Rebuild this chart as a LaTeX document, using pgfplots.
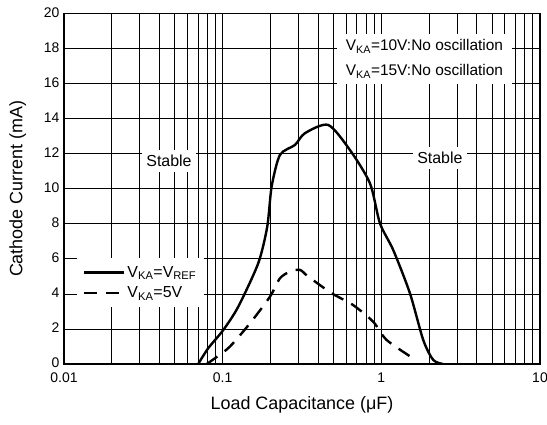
\documentclass[border=0pt]{standalone}
\usepackage{fontspec}
\setmainfont{Liberation Sans}
\usepackage{pgfplots}
\pgfplotsset{compat=1.18}

\begin{document}
\begin{tikzpicture}
\begin{axis}[
    xmode=log,
    scale only axis,
    width=476bp, height=350.5bp,
    xmin=0.01, xmax=10,
    ymin=0, ymax=20,
    xtick={0.01,0.1,1,10},
    xticklabels={0.01,0.1,1,10},
    minor xtick={0.02,0.03,0.04,0.05,0.06,0.07,0.08,0.09,
                 0.2,0.3,0.4,0.5,0.6,0.7,0.8,0.9,
                 2,3,4,5,6,7,8,9},
    ytick={0,2,...,20},
    major tick length=0pt, minor tick length=0pt,
    grid=both,
    major grid style={black, line width=0.8bp},
    minor grid style={black, line width=0.8bp},
    axis line style={black, line width=1.6bp},
    /pgf/number format/assume math mode=true,
    tick label style={font=\fontsize{14}{16}\selectfont},
    xticklabel style={yshift=-5.5bp},
    yticklabel style={xshift=-1bp, yshift=1bp},
    xlabel={Load Capacitance (μF)},
    ylabel={Cathode Current (mA)},
    label style={font=\fontsize{18}{20}\selectfont},
    xlabel style={at={(axis description cs:0.5,-0.117)}, anchor=center},
    ylabel style={at={(axis description cs:-0.097,0.5)}, anchor=center},
    legend style={at={(0.027,0.302)}, anchor=north west, draw=none, fill=white,
        font=\fontsize{16}{18}\selectfont, row sep=4bp,
        inner xsep=6bp, inner ysep=6bp},
    legend cell align=left,
    legend image code/.code={\draw[#1] (0bp,0bp) -- (40bp,0bp);},
]
\addplot[black, line width=2.4bp, smooth, tension=0.45] coordinates {
    (0.0701,0) (0.0811,0.9) (0.1009,1.94) (0.1254,3.27) (0.1676,5.75)
    (0.191,7.84) (0.2035,10.12) (0.2296,11.93) (0.2855,12.5) (0.330,13.17)
    (0.4627,13.64) (0.634,12.21) (0.848,10.31) (0.980,8.03) (1.189,6.5)
    (1.514,4.04) (1.837,1.37) (2.124,0.23) (2.45,0)
};
\addlegendentry{V\textsubscript{KA}=V\textsubscript{REF}}
\addplot[black, line width=2.4bp, smooth, tension=0.45, dash pattern=on 13bp off 9bp] coordinates {
    (0.0794,0) (0.0917,0.4) (0.111,0.99) (0.1486,2.32) (0.1986,3.84)
    (0.2296,4.89) (0.2655,5.27) (0.307,5.37) (0.346,4.99) (0.486,4.04)
    (0.665,3.36) (0.889,2.41) (1.08,1.37) (1.589,0.32)
};
\addlegendentry{V\textsubscript{KA}=5V}

\node[fill=white, inner xsep=4.5bp, inner ysep=5bp, font=\fontsize{16}{18}\selectfont]
    at (axis cs:0.0459,11.59) {Stable};
\node[fill=white, inner xsep=4.5bp, inner ysep=5bp, font=\fontsize{16}{18}\selectfont]
    at (axis cs:2.34,11.76) {Stable};
\node[fill=white, align=left, inner xsep=9bp, inner ysep=6bp,
      font=\fontsize{15.5}{25}\selectfont]
    at (axis cs:1.87,17.4) {V\textsubscript{KA}=10V:No oscillation\\V\textsubscript{KA}=15V:No oscillation};
\end{axis}
\pgfresetboundingbox
\path ([shift={(-64bp,-61bp)}]current axis.south west) rectangle ([shift={(7bp,13.5bp)}]current axis.north east);
\end{tikzpicture}
\end{document}
